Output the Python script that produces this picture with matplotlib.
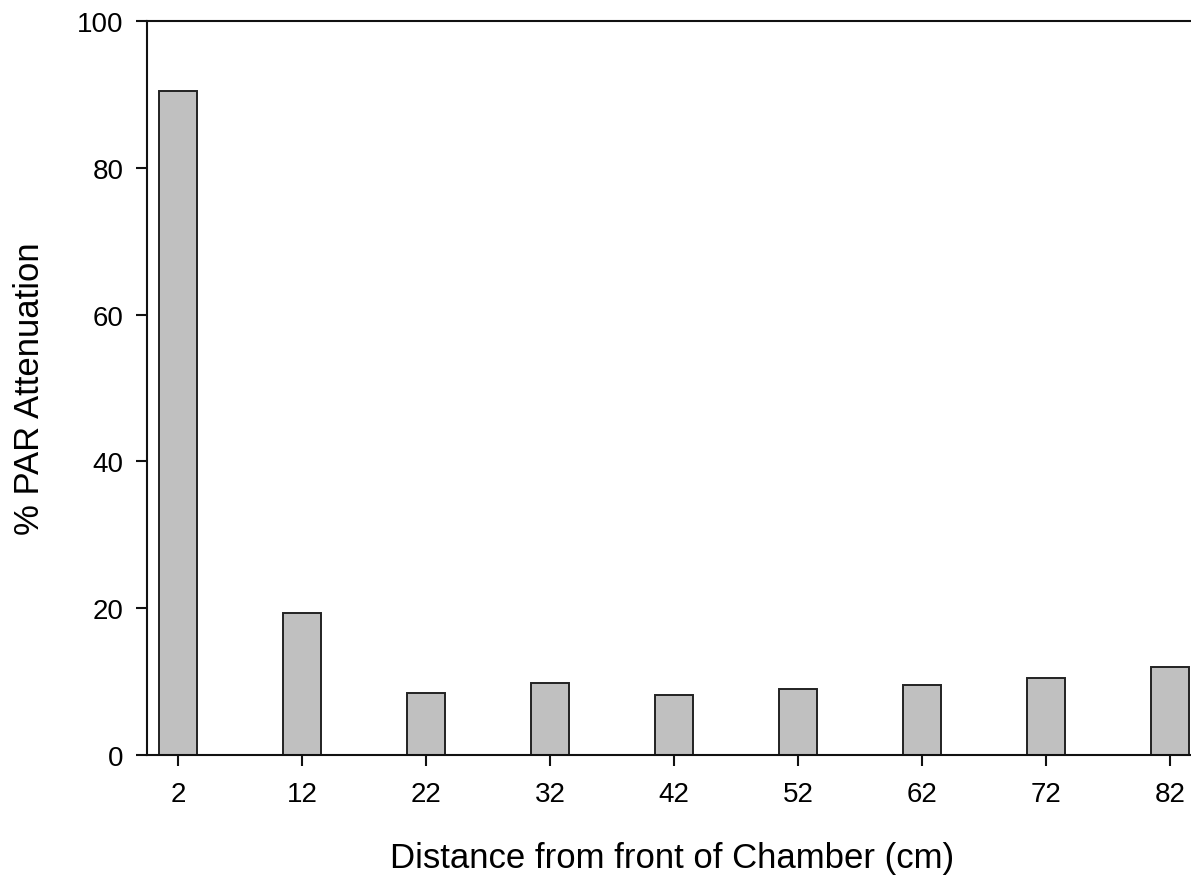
import matplotlib
matplotlib.use("Agg")
import matplotlib.pyplot as plt

# PAR attenuation measured along the chamber
distance_cm = [2, 12, 22, 32, 42, 52, 62, 72, 82]
attenuation_pct = [90.4, 19.4, 8.45, 9.75, 8.2, 8.95, 9.6, 10.5, 12.0]
x_tick_labels = ["2", "12", "22", "32", "42", "52", "62", "72", "82"]
y_ticks = [0, 20, 40, 60, 80, 100]

plt.rcParams["font.family"] = ["Liberation Sans", "DejaVu Sans"]

W, H = 1191, 879
fig = plt.figure(figsize=(W / 100, H / 100), dpi=100)

# axes box in pixels: left spine at 147, top at 22, bottom at 756
left_px, top_px, bottom_px = 147, 22, 756
px_per_cm = 12.4
x_min, x_max = -0.5, 84.2
width_px = (x_max - x_min) * px_per_cm
ax = fig.add_axes([left_px / W, 1 - bottom_px / H, width_px / W, (bottom_px - top_px) / H])

ax.bar(distance_cm, attenuation_pct, width=3.0, color="#c0c0c0",
       edgecolor="#222222", linewidth=1.4, zorder=2)

ax.set_xlim(x_min, x_max)
ax.set_ylim(0, 100)
ax.set_xticks(distance_cm)
ax.set_xticklabels(x_tick_labels)
ax.set_yticks(y_ticks)

for s in ax.spines.values():
    s.set_linewidth(1.5)
    s.set_color("#111111")

ax.tick_params(axis="both", direction="out", length=8, width=1.5,
               color="#111111", labelsize=20)
ax.tick_params(axis="x", pad=11)
ax.tick_params(axis="y", pad=9)

ax.set_xlabel("Distance from front of Chamber (cm)", fontsize=25, labelpad=24)
ax.set_ylabel("% PAR Attenuation", fontsize=25, labelpad=22)

fig.savefig("out.png", dpi=100)
